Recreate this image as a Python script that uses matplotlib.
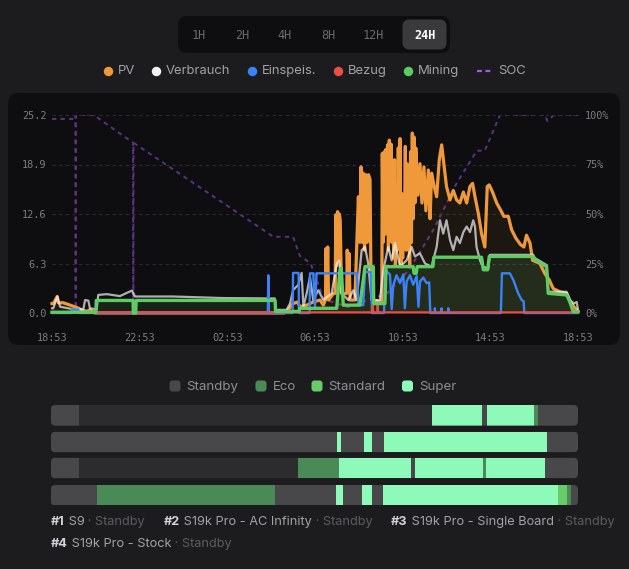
import numpy as np
import matplotlib.pyplot as plt
from matplotlib.patches import FancyBboxPatch

W, H = 629, 569

# ---- data (hours since 18:53, kW / %) ----
time_labels = ["18:53", "22:53", "02:53", "06:53", "10:53", "14:53", "18:53"]
kw_ticks = [0.0, 6.3, 12.6, 18.9, 25.2]
soc_ticks = [0, 25, 50, 75, 100]
range_tabs = ["1H", "2H", "4H", "8H", "12H", "24H"]
active_tab = "24H"

pv = [(0.0, 1.2), (0.06, 1.2), (0.24, 2.1), (0.29, 1.3), (0.52, 1.3), (0.82, 1.0),
      (1.13, 0.7), (1.35, 0.4), (1.58, 0.2), (1.73, 0.4), (1.96, 0.0), (10.6, 0.0),
      (10.75, 0.3), (11.0, 1.2), (11.2, 1.4), (11.31, 0.8), (11.62, 1.0), (11.92, 1.4),
      (12.23, 1.65), (12.38, 1.0), (12.48, 1.7), (12.5, 8.2), (12.54, 3.0), (12.58, 8.4),
      (12.62, 1.65), (12.84, 2.5), (12.92, 2.5), (12.95, 12.5), (12.99, 6.0), (13.03, 12.9),
      (13.07, 7.0), (13.11, 12.6), (13.15, 11.8), (13.19, 5.9), (13.22, 2.5), (13.37, 2.5),
      (13.45, 2.5), (13.47, 8.0), (13.51, 3.5), (13.55, 7.6), (13.6, 1.65), (13.82, 1.65),
      (13.98, 14.8), (14.04, 9.0), (14.1, 18.6), (14.15, 9.0), (14.2, 17.8), (14.26, 8.0),
      (14.32, 17.6), (14.38, 9.0), (14.44, 17.6), (14.51, 17.0), (14.55, 5.5), (14.66, 1.65),
      (14.96, 1.4), (15.05, 1.4), (15.07, 20.3), (15.11, 9.0), (15.15, 20.5), (15.19, 10.0),
      (15.23, 20.8), (15.27, 11.0), (15.31, 21.4), (15.35, 8.0), (15.39, 22.0), (15.43, 10.0),
      (15.47, 21.5), (15.51, 9.0), (15.55, 17.3), (15.59, 7.0), (15.63, 19.5), (15.67, 6.0),
      (15.71, 16.1), (15.76, 8.0), (15.8, 21.0), (15.84, 9.0), (15.88, 22.2), (15.92, 6.0),
      (15.96, 15.2), (16.0, 7.0), (16.04, 14.0), (16.08, 10.0), (16.12, 21.2), (16.16, 8.0),
      (16.2, 19.0), (16.24, 9.0), (16.28, 11.8), (16.32, 6.0), (16.36, 20.5), (16.4, 9.0),
      (16.44, 22.9), (16.48, 12.0), (16.52, 22.4), (16.56, 14.0), (16.6, 21.0), (16.7, 15.0),
      (16.79, 19.0), (16.88, 14.0), (16.97, 18.6), (17.06, 13.0), (17.17, 18.2), (17.25, 12.0),
      (17.32, 17.8), (17.44, 16.1), (17.55, 14.8), (17.67, 19.5), (17.78, 21.4), (17.88, 19.0),
      (18.0, 16.1), (18.16, 14.4), (18.31, 15.6), (18.46, 14.4), (18.61, 14.0), (18.77, 15.4),
      (18.92, 14.0), (19.07, 16.1), (19.19, 16.5), (19.3, 14.8), (19.45, 12.7), (19.6, 10.1),
      (19.75, 8.4), (19.86, 16.1), (19.95, 16.3), (20.1, 15.4), (20.29, 14.0), (20.47, 13.1),
      (20.62, 12.3), (20.82, 12.3), (20.97, 10.6), (21.17, 9.5), (21.38, 8.7), (21.53, 8.4),
      (21.65, 9.9), (21.81, 8.9), (21.93, 6.7), (22.26, 6.3), (22.49, 5.0), (22.69, 4.2),
      (22.87, 3.1), (23.17, 2.7), (23.48, 2.5), (23.66, 1.4), (23.81, 0.8), (24.0, 0.2)]

verbrauch = [(0.0, 0.6), (0.06, 0.6), (0.24, 2.1), (0.37, 0.8), (0.97, 0.47), (1.43, 0.47),
             (1.51, 1.65), (1.66, 1.57), (1.73, 0.6), (2.04, 0.47), (2.11, 2.3), (2.5, 2.4),
             (3.1, 2.15), (3.64, 2.85), (3.79, 2.1), (5.53, 2.1), (7.82, 1.9), (10.17, 1.85),
             (10.2, 0.4), (10.7, 0.4), (10.86, 1.2), (11.0, 2.9), (11.24, 3.6), (11.39, 5.1),
             (11.47, 0.8), (11.62, 2.5), (11.77, 4.6), (11.92, 1.65), (12.15, 2.9), (12.38, 1.65),
             (12.76, 2.5), (12.99, 6.3), (13.11, 6.7), (13.21, 2.5), (13.52, 1.65), (13.75, 2.9),
             (13.9, 1.65), (14.13, 8.0), (14.28, 8.4), (14.43, 6.3), (14.58, 1.65), (14.96, 1.65),
             (15.12, 5.5), (15.34, 8.4), (15.5, 6.7), (15.65, 8.9), (15.88, 5.9), (16.18, 6.7),
             (16.41, 8.4), (16.56, 7.2), (16.79, 7.6), (17.02, 6.3), (17.32, 5.9), (17.55, 8.4),
             (17.7, 11.8), (17.85, 10.1), (18.0, 11.8), (18.16, 9.3), (18.31, 8.0), (18.46, 9.7),
             (18.61, 8.9), (18.77, 10.3), (18.92, 11.0), (19.07, 10.3), (19.22, 11.8), (19.3, 11.0),
             (19.37, 8.4), (19.53, 6.7), (19.65, 5.9), (19.91, 5.7), (19.98, 7.4), (21.96, 7.4),
             (22.03, 7.0), (22.57, 6.1), (22.64, 2.7), (23.48, 2.7), (23.63, 1.65), (23.81, 1.2),
             (23.94, 1.4), (24.0, 0.4)]

einspeis = [(0.0, 0.0), (0.88, 0.0), (0.9, 0.45), (1.2, 0.45), (1.22, 0.0), (9.85, 0.0),
            (9.87, 4.8), (9.9, 0.0), (10.98, 0.0), (11.0, 5.1), (11.25, 5.1), (11.27, 0.0),
            (11.75, 0.0), (11.77, 5.05), (11.92, 5.05), (12.0, 0.8), (12.07, 5.05), (13.9, 5.05),
            (13.98, 1.0), (14.2, 1.0), (14.28, 5.2), (14.55, 5.2), (14.6, 0.0), (15.15, 0.0),
            (15.2, 5.5), (15.42, 4.9), (15.5, 0.5), (15.57, 3.5), (15.72, 4.8), (15.88, 3.8),
            (16.03, 4.9), (16.1, 0.6), (16.18, 4.0), (16.33, 4.8), (16.48, 3.6), (16.64, 4.7),
            (16.72, 0.8), (16.79, 4.0), (16.94, 4.5), (17.09, 3.8), (17.21, 3.9), (17.26, 0.0),
            (17.46, 0.0), (17.47, 0.6), (17.49, 0.0), (17.76, 0.0), (17.77, 0.6), (17.79, 0.0),
            (18.07, 0.0), (18.08, 0.6), (18.1, 0.0), (20.48, 0.0), (20.53, 5.05), (20.89, 5.05),
            (21.05, 4.2), (21.27, 2.5), (21.43, 1.65), (21.52, 1.5), (21.55, 0.0), (24.0, 0.0)]

bezug = [(0.0, 0.08), (14.62, 0.08), (14.63, 1.0), (14.66, 0.08), (14.85, 0.08),
         (14.86, 1.0), (14.88, 0.08), (24.0, 0.08)]

mining = [(0.0, 0.1), (2.0, 0.1), (2.02, 1.6), (3.7, 1.6), (3.71, 0.0), (3.82, 0.0),
          (3.84, 1.6), (10.18, 1.6), (10.2, 0.2), (11.28, 0.2), (11.3, 0.6), (12.99, 0.6),
          (13.14, 5.5), (13.2, 5.7), (13.29, 1.0), (14.05, 1.0), (14.28, 5.9), (14.66, 5.9),
          (14.68, 1.2), (15.19, 1.2), (15.24, 5.9), (16.48, 5.9), (16.52, 5.05), (16.62, 5.05),
          (16.66, 5.9), (17.38, 5.9), (17.42, 7.1), (19.6, 7.1), (19.68, 5.5), (19.88, 5.5),
          (19.95, 7.2), (21.96, 7.2), (22.03, 6.75), (22.57, 5.9), (22.64, 2.5), (23.48, 2.3),
          (23.63, 1.4), (23.78, 0.17), (24.0, 0.17)]

soc = [(0.0, 98), (1.05, 98), (1.07, 100), (1.08, 0), (1.09, 100), (1.9, 100), (3.7, 86),
       (3.71, 0), (3.72, 86), (10.1, 38.5), (11.0, 38.5), (11.3, 29), (11.8, 25), (12.4, 7),
       (13.5, 3), (15.3, 10), (16.3, 22), (17.4, 42), (18.46, 65.5), (19.22, 79), (19.37, 82),
       (19.75, 82), (20.44, 100), (22.5, 100), (22.6, 97), (22.9, 100), (24.0, 100)]

miner_names = ["S9", "S19k Pro - AC Infinity", "S19k Pro - Single Board", "S19k Pro - Stock"]
miner_status = ["Standby", "Standby", "Standby", "Standby"]
miner_segments = [
    [(0, 1.28, "Standby"), (17.36, 19.64, "Super"), (19.64, 19.86, "Standby"),
     (19.86, 22.0, "Super"), (22.0, 22.19, "Eco"), (22.19, 24, "Standby")],
    [(0, 13.03, "Standby"), (13.03, 13.21, "Super"), (13.21, 14.26, "Standby"),
     (14.26, 14.62, "Super"), (14.62, 15.17, "Standby"), (15.17, 22.6, "Super"),
     (22.6, 24, "Standby")],
    [(0, 1.28, "Standby"), (11.25, 13.12, "Eco"), (13.12, 16.4, "Super"),
     (16.4, 16.58, "Standby"), (16.58, 19.68, "Super"), (19.68, 19.8, "Eco"),
     (19.8, 22.5, "Super"), (22.5, 24, "Standby")],
    [(0, 2.1, "Standby"), (2.1, 10.2, "Eco"), (10.2, 12.98, "Standby"),
     (12.98, 13.3, "Super"), (13.3, 14.17, "Standby"), (14.17, 14.62, "Super"),
     (14.62, 15.12, "Standby"), (15.12, 23.1, "Super"), (23.1, 23.51, "Standard"),
     (23.51, 23.67, "Eco"), (23.67, 24, "Standby")],
]
mode_names = ["Standby", "Eco", "Standard", "Super"]

# ---- styling ----
BG = "#1c1c1e"
PANEL = "#0e0e10"
TICK = "#7c7c80"
c_pv, c_verb, c_ein, c_bez, c_min, c_soc = "#f0993a", "#f4f4f5", "#3b82f6", "#ec4e45", "#5dcc62", "#a855f7"
mode_colors = {"Standby": "#48484a", "Eco": "#4a8a56", "Standard": "#67cc67", "Super": "#8efab9"}
mono = "DejaVu Sans Mono"
sans = ["Inter", "DejaVu Sans"]


def px_rect(x0, y0, x1, y1):
    return [x0 / W, 1 - y1 / H, (x1 - x0) / W, (y1 - y0) / H]


fig = plt.figure(figsize=(W / 100, H / 100), dpi=100, facecolor=BG)

# background layer in pixel coordinates
bg = fig.add_axes([0, 0, 1, 1], zorder=0)
bg.set_xlim(0, W)
bg.set_ylim(H, 0)
bg.axis("off")

# range tabs
bg.add_patch(FancyBboxPatch((178, 16), 272, 37, boxstyle="round,pad=0,rounding_size=9",
                            fc=PANEL, ec="none"))
tab_x = [199, 242, 285, 328, 373, 425]
for lab, tx in zip(range_tabs, tab_x):
    if lab == active_tab:
        bg.add_patch(FancyBboxPatch((402.5, 19.5), 44, 30, boxstyle="round,pad=0,rounding_size=7",
                                    fc="#3a3a3c", ec="none"))
        bg.text(tx, 35, lab, ha="center", va="center", color="white", fontsize=8.6,
                family=mono, fontweight="bold")
    else:
        bg.text(tx, 35, lab, ha="center", va="center", color="#6a6a6e", fontsize=8.6, family=mono)

# top legend
legend_items = [("PV", c_pv, 108), ("Verbrauch", c_verb, 156), ("Einspeis.", c_ein, 252),
                ("Bezug", c_bez, 338), ("Mining", c_min, 408)]
for lab, col, lx in legend_items:
    bg.plot([lx], [70.5], "o", ms=6.8, color=col, mec="none")
    bg.text(lx + 10, 70.5, lab, ha="left", va="center", color="#a1a1a6", fontsize=9.4, family=sans)
bg.plot([477, 491], [70.5, 70.5], color=c_soc, lw=1.6, dashes=(2.2, 1.6))
bg.text(498, 70.5, "SOC", ha="left", va="center", color="#a1a1a6", fontsize=9.4, family=sans)

# chart panel
bg.add_patch(FancyBboxPatch((8, 93), 612, 252, boxstyle="round,pad=0,rounding_size=11",
                            fc=PANEL, ec="none"))

# bottom legend
sq_x = [169.5, 255.5, 311.5, 402]
for lab, sx in zip(mode_names, sq_x):
    bg.add_patch(FancyBboxPatch((sx, 380.5), 11, 11, boxstyle="round,pad=0,rounding_size=3",
                                fc=mode_colors[lab], ec="none"))
    bg.text(sx + 17, 386.5, lab, ha="left", va="center", color="#8e8e93", fontsize=9.6, family=sans)

# miner labels
label_pos = [(51, 522), (164, 522), (391, 522), (51, 544)]
for i, (name, st) in enumerate(zip(miner_names, miner_status)):
    lx, ly = label_pos[i]
    t = bg.text(lx, ly, f"#{i + 1}", ha="left", va="center", color="#d1d1d6",
                fontsize=9.2, family=sans, fontweight="bold")
    t = bg.annotate(" " + name, xy=(1, 0), xycoords=t, ha="left", va="bottom",
                    color="#a1a1a6", fontsize=9.2, family=sans)
    bg.annotate(" \u00b7 " + st, xy=(1, 0), xycoords=t, ha="left", va="bottom",
                color="#5c5c60", fontsize=9.2, family=sans)

# ---- main chart ----
ax = fig.add_axes(px_rect(52, 115, 578, 313), zorder=2)
ax.set_facecolor("none")
axs = ax.twinx()
axs.set_zorder(1)
ax.set_zorder(2)

def unzip(pairs):
    a = np.array(pairs, dtype=float)
    return a[:, 0], a[:, 1]

h_pv, v_pv = unzip(pv)
h_vb, v_vb = unzip(verbrauch)
h_ei, v_ei = unzip(einspeis)
h_bz, v_bz = unzip(bezug)
h_mi, v_mi = unzip(mining)
h_so, v_so = unzip(soc)

ax.fill_between(h_pv, v_pv, color=c_pv, alpha=0.07, lw=0)
ax.fill_between(h_mi, v_mi, color=c_min, alpha=0.12, lw=0)
ax.plot(h_pv, v_pv, color=c_pv, lw=2.3, clip_on=False)
ax.plot(h_vb, v_vb, color=c_verb, alpha=0.7, lw=1.6, clip_on=False)
ax.plot(h_ei, v_ei, color=c_ein, lw=1.7, clip_on=False)
ax.plot(h_bz, v_bz, color=c_bez, lw=1.6, clip_on=False)
ax.plot(h_mi, v_mi, color=c_min, lw=2.4, clip_on=False)
axs.plot(h_so, v_so, color=c_soc, alpha=0.5, lw=1.4, dashes=(2.2, 2.2))

ax.set_xlim(0, 24)
ax.set_ylim(0, 25.2)
axs.set_ylim(0, 100)
ax.set_xticks(np.arange(0, 25, 4))
ax.set_xticklabels(time_labels)
ax.set_yticks(kw_ticks)
ax.set_yticklabels([f"{v:.1f}" for v in kw_ticks])
axs.set_yticks(soc_ticks)
axs.set_yticklabels([f"{v}%" for v in soc_ticks])
for a in (ax, axs):
    for s in a.spines.values():
        s.set_visible(False)
    a.tick_params(length=0, colors=TICK, labelsize=7.4)
    for lab in a.get_xticklabels() + a.get_yticklabels():
        lab.set_family(mono)
ax.tick_params(axis="x", pad=14.5)
ax.tick_params(axis="y", pad=4)
axs.tick_params(axis="y", pad=5)
for g in kw_ticks[1:]:
    ax.axhline(g, color="#2c2c30", lw=0.8, dashes=(3, 3), zorder=0)

# ---- miner mode bars ----
bx = fig.add_axes(px_rect(51, 405, 578, 505), zorder=2)
bx.set_xlim(0, 24)
bx.set_ylim(100, 0)
bx.axis("off")
row_top = [0, 26.7, 52.7, 80]
row_h = 20.6
px_per_hour = 527 / 24
for top, segs in zip(row_top, miner_segments):
    track = FancyBboxPatch((0, top), 24, row_h,
                           boxstyle=f"round,pad=0,rounding_size={4.5 / px_per_hour}",
                           mutation_aspect=px_per_hour, fc="#2c2c2e", ec="none")
    bx.add_patch(track)
    for mode in mode_names:
        ranges = [(s, e - s) for s, e, m in segs if m == mode]
        if ranges:
            coll = bx.broken_barh(ranges, (top, row_h), facecolors=mode_colors[mode], lw=0)
            coll.set_clip_path(track)

fig.savefig("out.png", dpi=100, facecolor=BG)
